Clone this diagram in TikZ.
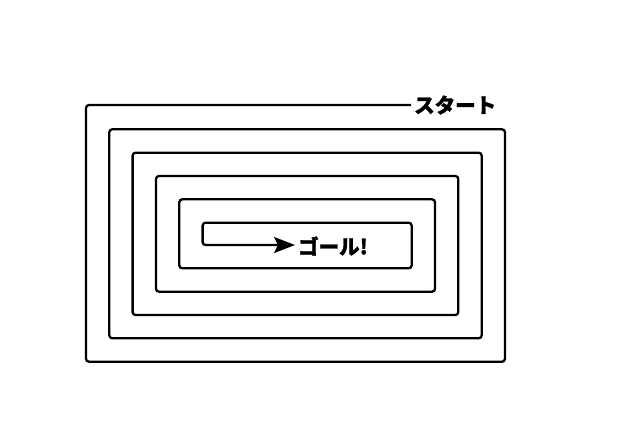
\documentclass[tikz,border=0pt]{standalone}
\usepackage{fontspec}
\newfontfamily\cjk{Noto Sans CJK JP}[BoldFeatures={FakeBold=1.2}]
\usetikzlibrary{arrows.meta}
\begin{document}
\begin{tikzpicture}[x=1pt,y=-1pt]
\tikzset{
  lbl/.style={font=\cjk\bfseries\fontsize{20.5pt}{20.5pt}\selectfont, inner sep=3pt, anchor=west},
  spiral/.style={line width=2.3pt, rounded corners=3pt, -{Stealth[length=21pt,width=16pt,inset=4pt]}}
}
\useasboundingbox (0,0) rectangle (620,432);
\node[lbl] (start) at (411,105) {スタート};
\node[lbl] (goal) at (295,246) {ゴール!};
\draw[spiral] (start.west) -- (86,105) -- (86,361.7) -- (505,361.7) -- (505,129.3)
  -- (109.3,129.3) -- (109.3,338.3) -- (481.7,338.3) -- (481.7,152.7)
  -- (132.6,152.7) -- (132.6,315) -- (458.3,315) -- (458.3,176)
  -- (156,176) -- (156,291.7) -- (435,291.7) -- (435,199.3)
  -- (179.3,199.3) -- (179.3,268.3) -- (411.7,268.3) -- (411.7,222.7)
  -- (202.6,222.7) -- (202.6,245) -- (goal.west|-202.6,245);
\end{tikzpicture}
\end{document}
